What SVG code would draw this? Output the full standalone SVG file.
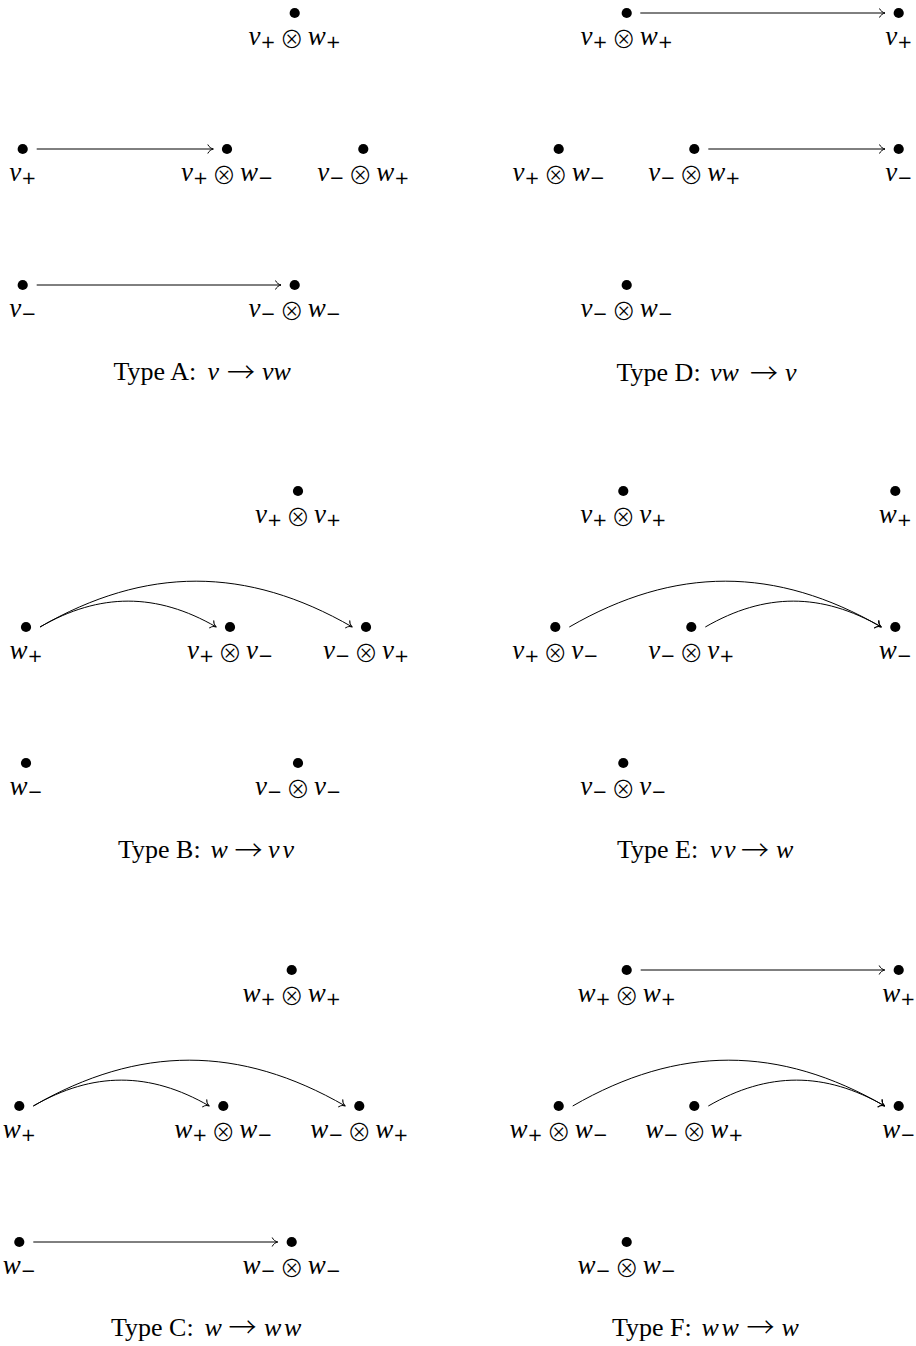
<svg xmlns="http://www.w3.org/2000/svg" width="916" height="1346" viewBox="0 0 916 1346">
<defs>
<style>
.m{font-family:"Liberation Serif",serif;font-size:27px;font-style:italic;text-anchor:middle;fill:#000}
.s{font-family:"DejaVu Sans",sans-serif;font-size:18px;font-style:normal}
.o{font-family:"Noto Sans CJK JP","DejaVu Sans",sans-serif;font-size:24px;font-style:normal;font-weight:300}
.cap{font-family:"Liberation Serif",serif;font-size:26px;fill:#000}
.ci{font-style:italic}
.ar{font-family:"Noto Sans CJK JP","DejaVu Sans",sans-serif;font-size:28px;font-style:normal;font-weight:300}
.e{fill:none;stroke:#000;stroke-width:1;marker-end:url(#ah)}
.d{fill:#000}
</style>
<marker id="ah" markerUnits="userSpaceOnUse" viewBox="-8 -6 10 12" markerWidth="10" markerHeight="12" refX="0" refY="0" orient="auto" overflow="visible">
<path d="M-5.5,-4.5 C-4.5,-2 -2,-0.5 0,0 C-2,0.5 -4.5,2 -5.5,4.5" fill="none" stroke="#000" stroke-width="1"/>
</marker>
</defs>
<rect width="916" height="1346" fill="#fff"/>

<g id="connectors">
<path class="e" d="M36.7,149 H213.3"/>
<path class="e" d="M36.7,285 H281"/>
<path class="e" d="M640.3,13 H885"/>
<path class="e" d="M708.3,149 H885"/>
<path class="e" d="M40,627 C99.8,592.5 156.5,592.5 216.3,627"/>
<path class="e" d="M40,627 C145.9,565.9 246.4,565.9 352.3,627"/>
<path class="e" d="M569.3,627 C675.1,565.9 775.5,565.9 881.3,627"/>
<path class="e" d="M705.3,627 C765,592.5 821.6,592.5 881.3,627"/>
<path class="e" d="M33.3,1106 C93,1071.5 149.6,1071.5 209.3,1106"/>
<path class="e" d="M33.3,1106 C139.1,1044.9 239.5,1044.9 345.3,1106"/>
<path class="e" d="M33.3,1242 H277.7"/>
<path class="e" d="M640.7,970 H884.7"/>
<path class="e" d="M572.7,1106 C678.5,1044.9 778.9,1044.9 884.7,1106"/>
<path class="e" d="M708.3,1106 C768.1,1071.5 824.9,1071.5 884.7,1106"/>
</g>

<!-- Panel A -->
<g id="A1"><circle class="d" cx="294.7" cy="13" r="5.1"/><text class="m" x="294.7" y="44.5">v<tspan class="s" dy="3">+</tspan><tspan class="o" dx="4" dy="0">⊗</tspan><tspan dx="4" dy="-3">w</tspan><tspan class="s" dy="3">+</tspan></text></g>
<g id="A2"><circle class="d" cx="22.7" cy="149" r="5.1"/><text class="m" x="22.7" y="180.5">v<tspan class="s" dy="3">+</tspan></text></g>
<g id="A3"><circle class="d" cx="227" cy="149" r="5.1"/><text class="m" x="227" y="180.5">v<tspan class="s" dy="3">+</tspan><tspan class="o" dx="4" dy="0">⊗</tspan><tspan dx="4" dy="-3">w</tspan><tspan class="s" dy="3">−</tspan></text></g>
<g id="A4"><circle class="d" cx="363.3" cy="149" r="5.1"/><text class="m" x="363.3" y="180.5">v<tspan class="s" dy="3">−</tspan><tspan class="o" dx="4" dy="0">⊗</tspan><tspan dx="4" dy="-3">w</tspan><tspan class="s" dy="3">+</tspan></text></g>
<g id="A5"><circle class="d" cx="22.7" cy="285" r="5.1"/><text class="m" x="22.7" y="316.5">v<tspan class="s" dy="3">−</tspan></text></g>
<g id="A6"><circle class="d" cx="294.7" cy="285" r="5.1"/><text class="m" x="294.7" y="316.5">v<tspan class="s" dy="3">−</tspan><tspan class="o" dx="4" dy="0">⊗</tspan><tspan dx="4" dy="-3">w</tspan><tspan class="s" dy="3">−</tspan></text></g>
<g id="A-caption"><text class="cap" y="380"><tspan x="113.5">Type A:</tspan><tspan class="ci" x="207.5">v</tspan><tspan class="ar" x="227" dy="3">→</tspan><tspan class="ci" x="262" dy="-3">v</tspan><tspan class="ci" x="273.5">w</tspan></text></g>

<!-- Panel D -->
<g id="D1"><circle class="d" cx="626.7" cy="13" r="5.1"/><text class="m" x="626.7" y="44.5">v<tspan class="s" dy="3">+</tspan><tspan class="o" dx="4" dy="0">⊗</tspan><tspan dx="4" dy="-3">w</tspan><tspan class="s" dy="3">+</tspan></text></g>
<g id="D2"><circle class="d" cx="898.7" cy="13" r="5.1"/><text class="m" x="898.7" y="44.5">v<tspan class="s" dy="3">+</tspan></text></g>
<g id="D3"><circle class="d" cx="558.7" cy="149" r="5.1"/><text class="m" x="558.7" y="180.5">v<tspan class="s" dy="3">+</tspan><tspan class="o" dx="4" dy="0">⊗</tspan><tspan dx="4" dy="-3">w</tspan><tspan class="s" dy="3">−</tspan></text></g>
<g id="D4"><circle class="d" cx="694.3" cy="149" r="5.1"/><text class="m" x="694.3" y="180.5">v<tspan class="s" dy="3">−</tspan><tspan class="o" dx="4" dy="0">⊗</tspan><tspan dx="4" dy="-3">w</tspan><tspan class="s" dy="3">+</tspan></text></g>
<g id="D5"><circle class="d" cx="898.7" cy="149" r="5.1"/><text class="m" x="898.7" y="180.5">v<tspan class="s" dy="3">−</tspan></text></g>
<g id="D6"><circle class="d" cx="626.7" cy="285" r="5.1"/><text class="m" x="626.7" y="316.5">v<tspan class="s" dy="3">−</tspan><tspan class="o" dx="4" dy="0">⊗</tspan><tspan dx="4" dy="-3">w</tspan><tspan class="s" dy="3">−</tspan></text></g>
<g id="D-caption"><text class="cap" y="381"><tspan x="616.5">Type D:</tspan><tspan class="ci" x="710">v</tspan><tspan class="ci" x="721.5">w</tspan><tspan class="ar" x="750" dy="3">→</tspan><tspan class="ci" x="785" dy="-3">v</tspan></text></g>

<!-- Panel B -->
<g id="B1"><circle class="d" cx="298" cy="491" r="5.1"/><text class="m" x="298" y="522.5">v<tspan class="s" dy="3">+</tspan><tspan class="o" dx="4" dy="0">⊗</tspan><tspan dx="4" dy="-3">v</tspan><tspan class="s" dy="3">+</tspan></text></g>
<g id="B2"><circle class="d" cx="26" cy="627" r="5.1"/><text class="m" x="26" y="658.5">w<tspan class="s" dy="3">+</tspan></text></g>
<g id="B3"><circle class="d" cx="230" cy="627" r="5.1"/><text class="m" x="230" y="658.5">v<tspan class="s" dy="3">+</tspan><tspan class="o" dx="4" dy="0">⊗</tspan><tspan dx="4" dy="-3">v</tspan><tspan class="s" dy="3">−</tspan></text></g>
<g id="B4"><circle class="d" cx="366" cy="627" r="5.1"/><text class="m" x="366" y="658.5">v<tspan class="s" dy="3">−</tspan><tspan class="o" dx="4" dy="0">⊗</tspan><tspan dx="4" dy="-3">v</tspan><tspan class="s" dy="3">+</tspan></text></g>
<g id="B5"><circle class="d" cx="26" cy="763" r="5.1"/><text class="m" x="26" y="794.5">w<tspan class="s" dy="3">−</tspan></text></g>
<g id="B6"><circle class="d" cx="298" cy="763" r="5.1"/><text class="m" x="298" y="794.5">v<tspan class="s" dy="3">−</tspan><tspan class="o" dx="4" dy="0">⊗</tspan><tspan dx="4" dy="-3">v</tspan><tspan class="s" dy="3">−</tspan></text></g>
<g id="B-caption"><text class="cap" y="858"><tspan x="118">Type B:</tspan><tspan class="ci" x="210.5">w</tspan><tspan class="ar" x="234.5" dy="3">→</tspan><tspan class="ci" x="268" dy="-3">v</tspan><tspan class="ci" x="282.5">v</tspan></text></g>

<!-- Panel E -->
<g id="E1"><circle class="d" cx="623.3" cy="491" r="5.1"/><text class="m" x="623.3" y="522.5">v<tspan class="s" dy="3">+</tspan><tspan class="o" dx="4" dy="0">⊗</tspan><tspan dx="4" dy="-3">v</tspan><tspan class="s" dy="3">+</tspan></text></g>
<g id="E2"><circle class="d" cx="895.3" cy="491" r="5.1"/><text class="m" x="895.3" y="522.5">w<tspan class="s" dy="3">+</tspan></text></g>
<g id="E3"><circle class="d" cx="555.3" cy="627" r="5.1"/><text class="m" x="555.3" y="658.5">v<tspan class="s" dy="3">+</tspan><tspan class="o" dx="4" dy="0">⊗</tspan><tspan dx="4" dy="-3">v</tspan><tspan class="s" dy="3">−</tspan></text></g>
<g id="E4"><circle class="d" cx="691.3" cy="627" r="5.1"/><text class="m" x="691.3" y="658.5">v<tspan class="s" dy="3">−</tspan><tspan class="o" dx="4" dy="0">⊗</tspan><tspan dx="4" dy="-3">v</tspan><tspan class="s" dy="3">+</tspan></text></g>
<g id="E5"><circle class="d" cx="895.3" cy="627" r="5.1"/><text class="m" x="895.3" y="658.5">w<tspan class="s" dy="3">−</tspan></text></g>
<g id="E6"><circle class="d" cx="623.3" cy="763" r="5.1"/><text class="m" x="623.3" y="794.5">v<tspan class="s" dy="3">−</tspan><tspan class="o" dx="4" dy="0">⊗</tspan><tspan dx="4" dy="-3">v</tspan><tspan class="s" dy="3">−</tspan></text></g>
<g id="E-caption"><text class="cap" y="858"><tspan x="617">Type E:</tspan><tspan class="ci" x="710">v</tspan><tspan class="ci" x="724">v</tspan><tspan class="ar" x="741" dy="3">→</tspan><tspan class="ci" x="776" dy="-3">w</tspan></text></g>

<!-- Panel C -->
<g id="C1"><circle class="d" cx="291.7" cy="970" r="5.1"/><text class="m" x="291.7" y="1001.5">w<tspan class="s" dy="3">+</tspan><tspan class="o" dx="4" dy="0">⊗</tspan><tspan dx="4" dy="-3">w</tspan><tspan class="s" dy="3">+</tspan></text></g>
<g id="C2"><circle class="d" cx="19.3" cy="1106" r="5.1"/><text class="m" x="19.3" y="1137.5">w<tspan class="s" dy="3">+</tspan></text></g>
<g id="C3"><circle class="d" cx="223.3" cy="1106" r="5.1"/><text class="m" x="223.3" y="1137.5">w<tspan class="s" dy="3">+</tspan><tspan class="o" dx="4" dy="0">⊗</tspan><tspan dx="4" dy="-3">w</tspan><tspan class="s" dy="3">−</tspan></text></g>
<g id="C4"><circle class="d" cx="359.3" cy="1106" r="5.1"/><text class="m" x="359.3" y="1137.5">w<tspan class="s" dy="3">−</tspan><tspan class="o" dx="4" dy="0">⊗</tspan><tspan dx="4" dy="-3">w</tspan><tspan class="s" dy="3">+</tspan></text></g>
<g id="C5"><circle class="d" cx="19.3" cy="1242" r="5.1"/><text class="m" x="19.3" y="1273.5">w<tspan class="s" dy="3">−</tspan></text></g>
<g id="C6"><circle class="d" cx="291.7" cy="1242" r="5.1"/><text class="m" x="291.7" y="1273.5">w<tspan class="s" dy="3">−</tspan><tspan class="o" dx="4" dy="0">⊗</tspan><tspan dx="4" dy="-3">w</tspan><tspan class="s" dy="3">−</tspan></text></g>
<g id="C-caption"><text class="cap" y="1335.5"><tspan x="111">Type C:</tspan><tspan class="ci" x="204.5">w</tspan><tspan class="ar" x="228.5" dy="2">→</tspan><tspan class="ci" x="264" dy="-2">w</tspan><tspan class="ci" x="284">w</tspan></text></g>

<!-- Panel F -->
<g id="F1"><circle class="d" cx="626.7" cy="970" r="5.1"/><text class="m" x="626.7" y="1001.5">w<tspan class="s" dy="3">+</tspan><tspan class="o" dx="4" dy="0">⊗</tspan><tspan dx="4" dy="-3">w</tspan><tspan class="s" dy="3">+</tspan></text></g>
<g id="F2"><circle class="d" cx="898.7" cy="970" r="5.1"/><text class="m" x="898.7" y="1001.5">w<tspan class="s" dy="3">+</tspan></text></g>
<g id="F3"><circle class="d" cx="558.7" cy="1106" r="5.1"/><text class="m" x="558.7" y="1137.5">w<tspan class="s" dy="3">+</tspan><tspan class="o" dx="4" dy="0">⊗</tspan><tspan dx="4" dy="-3">w</tspan><tspan class="s" dy="3">−</tspan></text></g>
<g id="F4"><circle class="d" cx="694.3" cy="1106" r="5.1"/><text class="m" x="694.3" y="1137.5">w<tspan class="s" dy="3">−</tspan><tspan class="o" dx="4" dy="0">⊗</tspan><tspan dx="4" dy="-3">w</tspan><tspan class="s" dy="3">+</tspan></text></g>
<g id="F5"><circle class="d" cx="898.7" cy="1106" r="5.1"/><text class="m" x="898.7" y="1137.5">w<tspan class="s" dy="3">−</tspan></text></g>
<g id="F6"><circle class="d" cx="626.7" cy="1242" r="5.1"/><text class="m" x="626.7" y="1273.5">w<tspan class="s" dy="3">−</tspan><tspan class="o" dx="4" dy="0">⊗</tspan><tspan dx="4" dy="-3">w</tspan><tspan class="s" dy="3">−</tspan></text></g>
<g id="F-caption"><text class="cap" y="1335.5"><tspan x="612">Type F:</tspan><tspan class="ci" x="701.5">w</tspan><tspan class="ci" x="721.5">w</tspan><tspan class="ar" x="746.5" dy="2">→</tspan><tspan class="ci" x="781.5" dy="-2">w</tspan></text></g>
</svg>
